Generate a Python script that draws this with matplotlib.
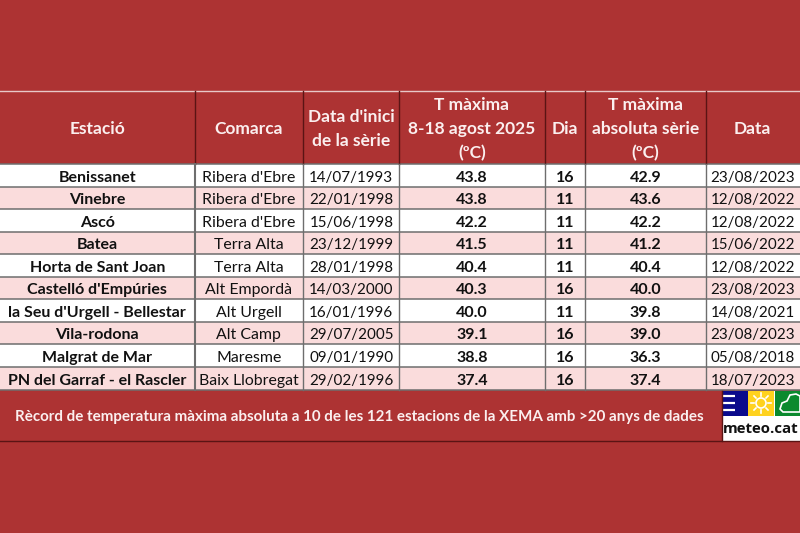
import matplotlib
matplotlib.use("Agg")
import matplotlib.pyplot as plt
from matplotlib.patches import Rectangle, Circle, Polygon

plt.rcParams['font.family'] = ['Lato', 'DejaVu Sans']

estacions = ["Benissanet", "Vinebre", "Ascó", "Batea", "Horta de Sant Joan", "Castelló d'Empúries",
             "la Seu d'Urgell - Bellestar", "Vila-rodona", "Malgrat de Mar", "PN del Garraf - el Rascler"]
comarques = ["Ribera d'Ebre", "Ribera d'Ebre", "Ribera d'Ebre", "Terra Alta", "Terra Alta", "Alt Empordà",
             "Alt Urgell", "Alt Camp", "Maresme", "Baix Llobregat"]
inici = ["14/07/1993", "22/01/1998", "15/06/1998", "23/12/1999", "28/01/1998", "14/03/2000",
         "16/01/1996", "29/07/2005", "09/01/1990", "29/02/1996"]
tmax_2025 = ["43.8", "43.8", "42.2", "41.5", "40.4", "40.3", "40.0", "39.1", "38.8", "37.4"]
dia = ["16", "11", "11", "11", "11", "16", "11", "16", "16", "16"]
tmax_abs = ["42.9", "43.6", "42.2", "41.2", "40.4", "40.0", "39.8", "39.0", "36.3", "37.4"]
data_abs = ["23/08/2023", "12/08/2022", "12/08/2022", "15/06/2022", "12/08/2022", "23/08/2023",
            "14/08/2021", "23/08/2023", "05/08/2018", "18/07/2023"]
headers = ["Estació", "Comarca", "Data d'inici\nde la sèrie", "T màxima\n8-18 agost 2025\n(ºC)", "Dia",
           "T màxima\nabsoluta sèrie\n(ºC)", "Data"]
nota = "Rècord de temperatura màxima absoluta a 10 de les 121 estacions de la XEMA amb >20 anys de dades"

RED = "#AD3333"
PINK = "#FADCDC"
DARK = "#5A1414"
GREY = "#6E6E6E"
edges = [0, 194.5, 303.2, 399.4, 544.5, 585.2, 705.5, 800]
top, head_bot, rows_bot, band_bot = 91, 164, 389.5, 441

fig = plt.figure(figsize=(8, 5.33), dpi=100, facecolor=RED)
ax = fig.add_axes([0, 0, 1, 1])
ax.set_xlim(0, 800)
ax.set_ylim(533, 0)
ax.axis("off")

columns = [estacions, comarques, inici, tmax_2025, dia, tmax_abs, data_abs]
bold = [True, False, False, True, True, True, False]
sizes = [11.5, 11.4, 10.9, 11.5, 11.5, 11.5, 10.9]
n = len(estacions)
rh = (rows_bot - head_bot) / n

ax.plot([0, 800], [top, top], color="#E8C8C8", lw=1)
for i in range(n):
    y0 = head_bot + i * rh
    ax.add_patch(Rectangle((0, y0), 800, rh, fc="white" if i % 2 == 0 else PINK, ec="none"))
    ax.plot([0, 800], [y0 + rh, y0 + rh], color=GREY, lw=1.1)
    for j, col in enumerate(columns):
        ax.text((edges[j] + edges[j + 1]) / 2, y0 + rh / 2 + 2.3, col[i], ha="center", va="center",
                fontsize=sizes[j], color="#111111", fontweight="bold" if bold[j] else "normal")
ax.plot([0, 800], [head_bot, head_bot], color=GREY, lw=1.1)
for x in edges[1:-1]:
    ax.plot([x, x], [top, head_bot], color=DARK, lw=1.0)
    ax.plot([x, x], [head_bot, rows_bot], color=GREY, lw=1.5 if x == edges[1] else 1.0)
for j, h in enumerate(headers):
    ax.text((edges[j] + edges[j + 1]) / 2, (top + head_bot) / 2 + 1.5, h, ha="center", va="center", fontsize=12.5,
            color="#FBEFEF", fontweight="bold", linespacing=1.62)

# nota inferior
ax.text(359, 416.5, nota, ha="center", va="center", fontsize=10.9, color="#FBEFEF", fontweight="bold")
ax.plot([0, 800], [band_bot, band_bot], color=DARK, lw=1)

# logotip meteo.cat
ax.add_patch(Rectangle((722, 390.5), 78, 50, fc="white", ec="none"))
ax.add_patch(Rectangle((722, 390.5), 26, 25, fc="#0A0A8C", ec="none"))
ax.add_patch(Rectangle((748, 390.5), 26, 25, fc="#FFD21E", ec="none"))
ax.add_patch(Rectangle((775, 390.5), 25, 25, fc="#0B8A2E", ec="none"))
for yy in (396, 403, 410):
    ax.plot([722, 735], [yy, yy], color="white", lw=1.6, solid_capstyle="butt")
ax.add_patch(Circle((761, 403), 5, fc="none", ec="white", lw=1.2))
for a, b, c, d in [(761, 393, 761, 396), (761, 410, 761, 413), (751, 403, 754, 403), (768, 403, 771, 403),
                   (754, 396, 756, 398), (766, 408, 768, 410), (754, 410, 756, 408), (766, 398, 768, 396)]:
    ax.plot([a, c], [b, d], color="white", lw=1.2)
ax.add_patch(Polygon([(783, 412), (780, 409), (782, 403), (787, 401), (790, 395), (796, 394), (800, 396), (800, 412)],
                     closed=True, fc="none", ec="white", lw=1.2))
ax.text(761, 429, "meteo.cat", ha="center", va="center", fontsize=10.8, color="#111111", fontweight="bold",
        family=["Open Sans", "DejaVu Sans"])
ax.plot([722, 722], [390.5, 441], color=DARK, lw=1)

fig.savefig("out.png", dpi=100, facecolor=RED)
